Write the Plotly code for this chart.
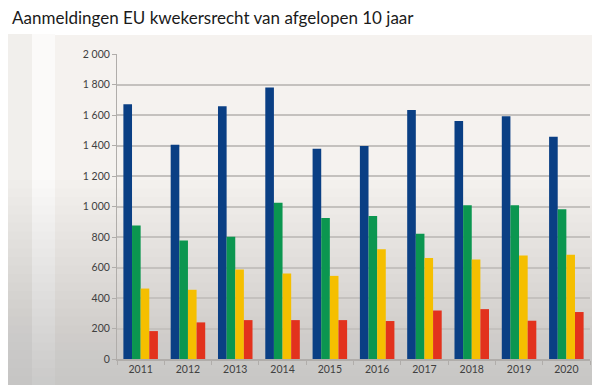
import plotly.graph_objects as go

years = ["2011", "2012", "2013", "2014", "2015", "2016", "2017", "2018", "2019", "2020"]
series_blue = [1670, 1405, 1657, 1781, 1379, 1397, 1633, 1561, 1591, 1458]
series_green = [875, 777, 801, 1024, 925, 938, 821, 1008, 1008, 982]
series_yellow = [462, 454, 587, 561, 545, 720, 663, 652, 678, 683]
series_red = [183, 240, 255, 255, 255, 249, 318, 327, 251, 308]
y_tickvals = [0, 200, 400, 600, 800, 1000, 1200, 1400, 1600, 1800, 2000]
y_ticktext = ["0", "200", "400", "600", "800", "1 000", "1 200", "1 400", "1 600", "1 800", "2 000"]

colors = ["#0a3f84", "#0b9650", "#f5bf00", "#e2321d"]

fig = go.Figure()
for vals, c in zip([series_blue, series_green, series_yellow, series_red], colors):
    fig.add_trace(go.Bar(x=years, y=vals, marker=dict(color=c, line=dict(width=0)),
                         showlegend=False, hoverinfo="skip"))

W, H = 600, 385
OFF = 8  # page body margin
L, R, T, B = 117 - OFF, 18, 54 - OFF, 34
PW = W - L - R
PH = H - T - B


def px_rect(x0, y0, x1, y1, color, opacity=1.0):
    # reference pixel coords -> paper coords
    x0 -= OFF; x1 -= OFF; y0 -= OFF; y1 -= OFF
    return dict(type="rect", xref="paper", yref="paper",
                x0=(x0 - L) / PW, x1=(x1 - L) / PW,
                y0=(H - B - y1) / PH, y1=(H - B - y0) / PH,
                fillcolor=color, opacity=opacity, line_width=0, layer="below")


shapes = []
shapes.append(px_rect(-20, -20, 700, 500, "white"))
shapes.append(px_rect(-20, 34, 32, 500, "#f1efec"))
shapes.append(px_rect(32, 34, 55, 500, "#fbfaf9"))
shapes.append(px_rect(55, 35, 700, 500, "#f5f2ef"))
n = 24
for i in range(n):
    y0 = 180 + i * (205 / n)
    shapes.append(px_rect(-20, y0, 700, 500, "#8a8784", 0.018))

fig.update_layout(
    width=W, height=H,
    margin=dict(l=L, r=R, t=T, b=B),
    paper_bgcolor="white",
    plot_bgcolor="rgba(0,0,0,0)",
    barmode="group",
    bargap=0.27,
    bargroupgap=0,
    shapes=shapes,
    title=dict(text="Aanmeldingen EU kwekersrecht van afgelopen 10 jaar",
               x=4 / W, xref="container", xanchor="left",
               y=1 - 4 / H, yref="container", yanchor="top", pad=dict(t=0, l=0),
               font=dict(family="Lato", size=17, color="#1a1a1a")),
    font=dict(family="Lato", color="#404040"),
)
fig.update_yaxes(range=[0, 2000], tickvals=y_tickvals, ticktext=y_ticktext,
                 showgrid=True, gridcolor="#c4c1be", gridwidth=1.5,
                 ticks="outside", ticklen=4, tickcolor="#b0adaa",
                 showline=True, linecolor="#b0adaa", linewidth=1,
                 tickfont=dict(size=10.5, color="#404040"), zeroline=False,
                 fixedrange=True)
fig.update_xaxes(type="category", tickson="boundaries", ticks="outside", ticklen=4,
                 tickcolor="#b0adaa", showline=True, linecolor="#b0adaa", linewidth=1.5,
                 tickfont=dict(size=10.5, color="#404040"), showgrid=False,
                 fixedrange=True)

fig.write_html("out.html")
